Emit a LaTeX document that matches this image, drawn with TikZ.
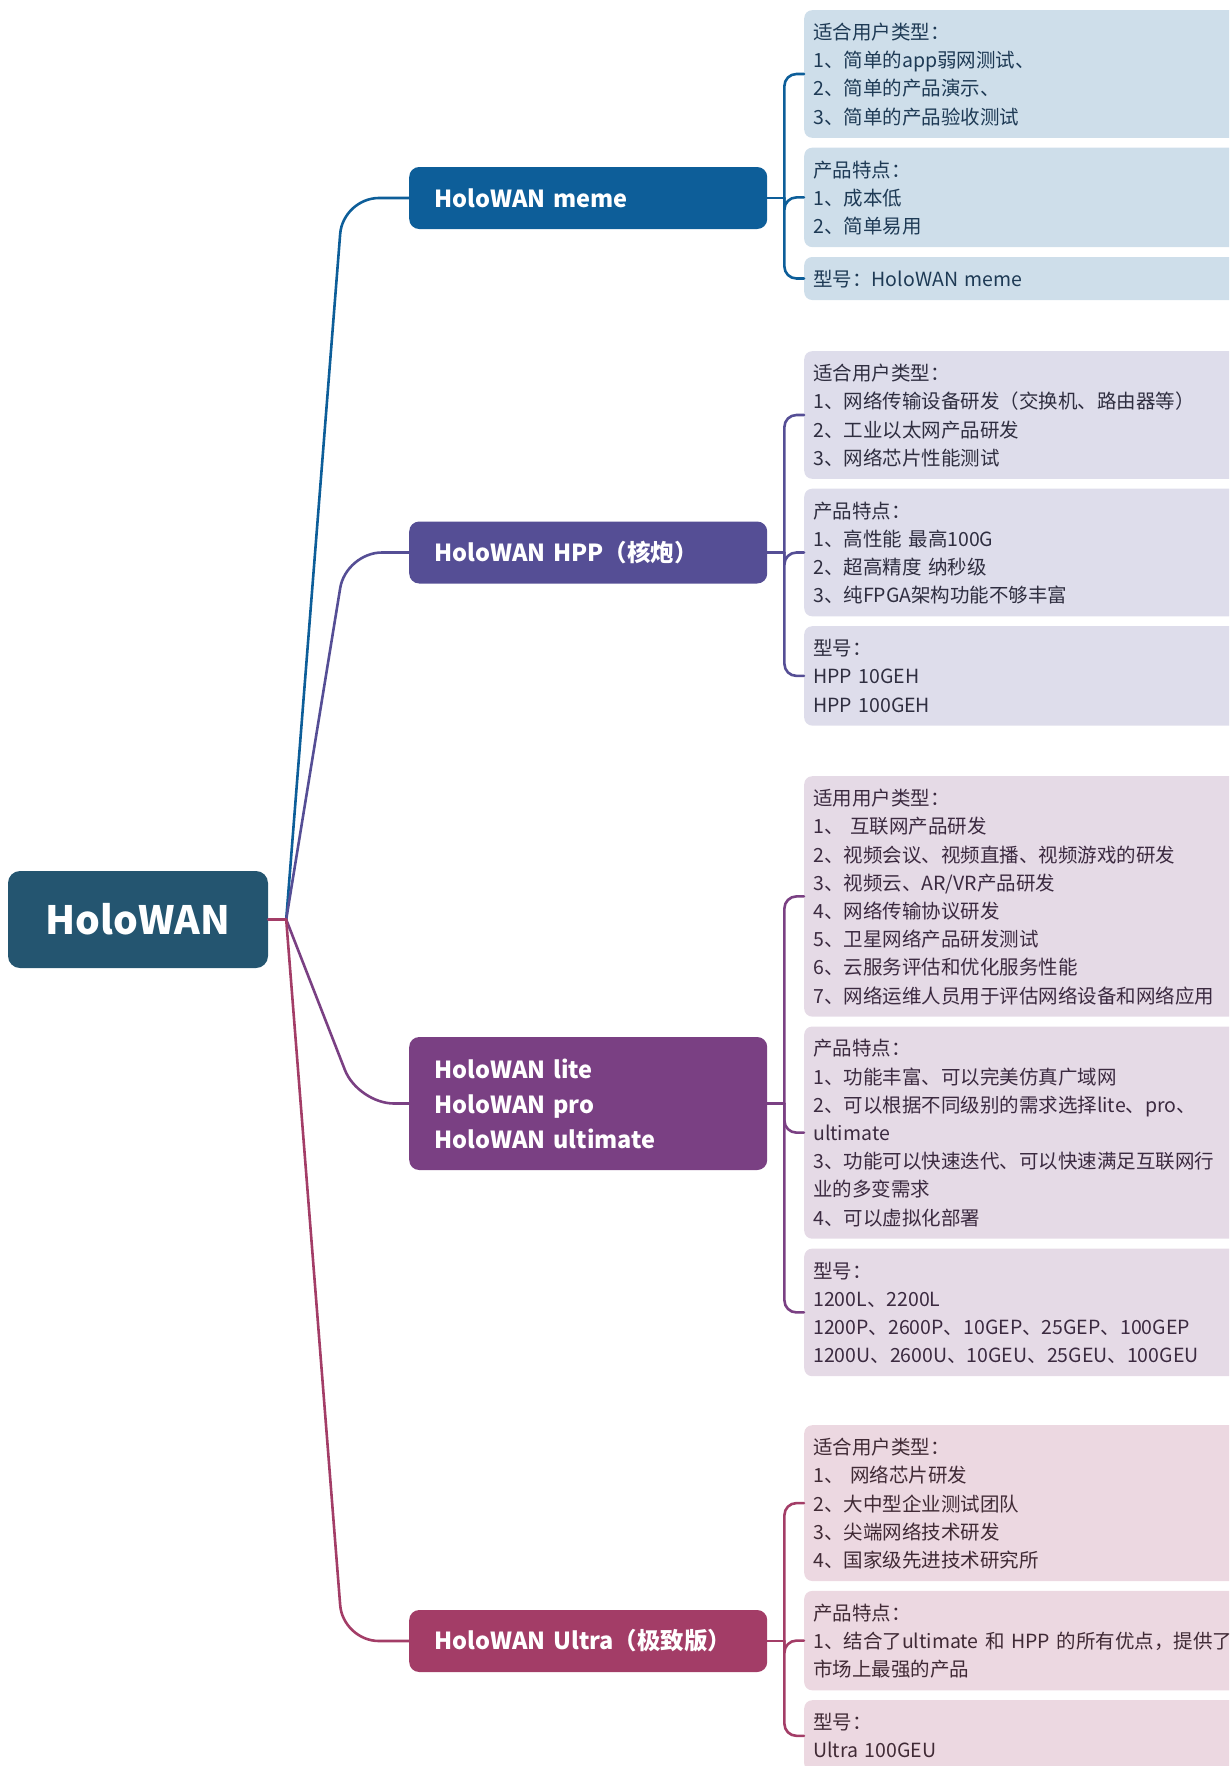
\documentclass[tikz,border=0pt]{standalone}
\usepackage{fontspec}
\setmainfont{Noto Sans CJK SC}
\usetikzlibrary{positioning}

\definecolor{rootteal}{HTML}{245570}
\definecolor{memeblue}{HTML}{0D5E99}
\definecolor{hppviolet}{HTML}{554E95}
\definecolor{liteplum}{HTML}{7A4083}
\definecolor{ultrarose}{HTML}{A33D67}
\definecolor{memefill}{HTML}{CEDEEA}
\definecolor{hppfill}{HTML}{DEDDEB}
\definecolor{litefill}{HTML}{E5DAE6}
\definecolor{ultrafill}{HTML}{ECD8E1}
\definecolor{memetext}{HTML}{1E3A55}
\definecolor{hpptext}{HTML}{2F2E40}
\definecolor{litetext}{HTML}{3B2A40}
\definecolor{ultratext}{HTML}{402A35}

\newcommand{\linestrut}{\rule[-6.2pt]{0pt}{28.2pt}}

\begin{document}
\begin{tikzpicture}[line cap=round, line join=round, x=1pt, y=-1pt,
    rootbox/.style={rectangle, rounded corners=12pt, fill=rootteal, text=white,
        minimum width=260pt, minimum height=97pt, font=\fontsize{39}{44}\selectfont\bfseries},
    topicbox/.style={rectangle, rounded corners=10pt, anchor=west, text=white,
        minimum width=358pt, minimum height=62pt, text width=308pt, inner xsep=25pt,
        align=left, font=\fontsize{23.5}{35}\selectfont\bfseries},
    infobox/.style={rectangle, rounded corners=8pt, anchor=north west, text width=430pt,
        inner xsep=9pt, inner ysep=7.4pt, align=left, font=\fontsize{19.5}{28.2}\selectfont,
        execute at begin node=\linestrut, execute at end node=\linestrut},
    linkline/.style={line width=2.6pt, rounded corners=36pt},
    bracket/.style={line width=2.6pt, rounded corners=12pt}]

    \useasboundingbox (0,0) rectangle (1229,1766);
    \clip (0,0) rectangle (1229,1766);

    % centre and main topics
    \node[rootbox] (root) at (138,919.5) {HoloWAN};
    \node[topicbox, fill=memeblue] (meme) at (409,198) {HoloWAN meme};
    \node[topicbox, fill=hppviolet] (hpp) at (409,552.5) {HoloWAN HPP（核炮）};
    \node[topicbox, fill=liteplum, minimum height=133pt] (lite) at (409,1103.5)
        {HoloWAN lite\\HoloWAN pro\\HoloWAN ultimate};
    \node[topicbox, fill=ultrarose] (ultra) at (409,1641) {HoloWAN Ultra（极致版）};

    % meme
    \node[infobox, fill=memefill, text=memetext] (m1) at (804,10)
        {适合用户类型：\\1、简单的app弱网测试、\\2、简单的产品演示、\\3、简单的产品验收测试};
    \node[infobox, fill=memefill, text=memetext, below=9.5pt of m1.south west, anchor=north west] (m2)
        {产品特点：\\1、成本低\\2、简单易用};
    \node[infobox, fill=memefill, text=memetext, below=9.5pt of m2.south west, anchor=north west] (m3)
        {型号：HoloWAN meme};

    % hpp
    \node[infobox, fill=hppfill, text=hpptext] (h1) at (804,351)
        {适合用户类型：\\1、网络传输设备研发（交换机、路由器等）\\2、工业以太网产品研发\\3、网络芯片性能测试};
    \node[infobox, fill=hppfill, text=hpptext, below=9.5pt of h1.south west, anchor=north west] (h2)
        {产品特点：\\1、高性能 最高100G\\2、超高精度 纳秒级\\3、纯FPGA架构功能不够丰富};
    \node[infobox, fill=hppfill, text=hpptext, below=9.5pt of h2.south west, anchor=north west] (h3)
        {型号：\\HPP 10GEH\\HPP 100GEH};

    % lite / pro / ultimate
    \node[infobox, fill=litefill, text=litetext] (l1) at (804,776)
        {适用用户类型：\\1、 互联网产品研发\\2、视频会议、视频直播、视频游戏的研发\\3、视频云、AR/VR产品研发\\4、网络传输协议研发\\5、卫星网络产品研发测试\\6、云服务评估和优化服务性能\\7、网络运维人员用于评估网络设备和网络应用};
    \node[infobox, fill=litefill, text=litetext, below=9.5pt of l1.south west, anchor=north west] (l2)
        {产品特点：\\1、功能丰富、可以完美仿真广域网\\2、可以根据不同级别的需求选择lite、pro、\\ultimate\\3、功能可以快速迭代、可以快速满足互联网行\\业的多变需求\\4、可以虚拟化部署};
    \node[infobox, fill=litefill, text=litetext, below=9.5pt of l2.south west, anchor=north west] (l3)
        {型号：\\1200L、2200L\\1200P、2600P、10GEP、25GEP、100GEP\\1200U、2600U、10GEU、25GEU、100GEU};

    % ultra
    \node[infobox, fill=ultrafill, text=ultratext] (u1) at (804,1425)
        {适合用户类型：\\1、 网络芯片研发\\2、大中型企业测试团队\\3、尖端网络技术研发\\4、国家级先进技术研究所};
    \node[infobox, fill=ultrafill, text=ultratext, below=9.5pt of u1.south west, anchor=north west] (u2)
        {产品特点：\\1、结合了ultimate 和 HPP 的所有优点，提供了\\市场上最强的产品};
    \node[infobox, fill=ultrafill, text=ultratext, below=9.5pt of u2.south west, anchor=north west] (u3)
        {型号：\\Ultra 100GEU};

    % curves from the centre
    \coordinate (rj) at ([xshift=18pt]root.east);
    \foreach \t/\c/\d in {meme/memeblue/66pt, hpp/hppviolet/63pt, lite/liteplum/51pt, ultra/ultrarose/66pt}
        \draw[linkline, \c] (rj) -- ([xshift=-\d]\t.west) -- (\t.west);
    \draw[line width=2.6pt, ultrarose] (root.east) -- (rj);

    % brackets to the details
    \foreach \t/\c/\a/\b/\e in {meme/memeblue/m1/m2/m3, hpp/hppviolet/h1/h2/h3,
            lite/liteplum/l1/l2/l3, ultra/ultrarose/u1/u2/u3} {
        \coordinate (\t-j) at ([xshift=17pt]\t.east);
        \draw[bracket, \c] (\t.east) -- (\t-j);
        \foreach \x in {\a,\b,\e}
            \draw[bracket, \c] (\t-j) |- (\x.west);
    }

\end{tikzpicture}
\end{document}
